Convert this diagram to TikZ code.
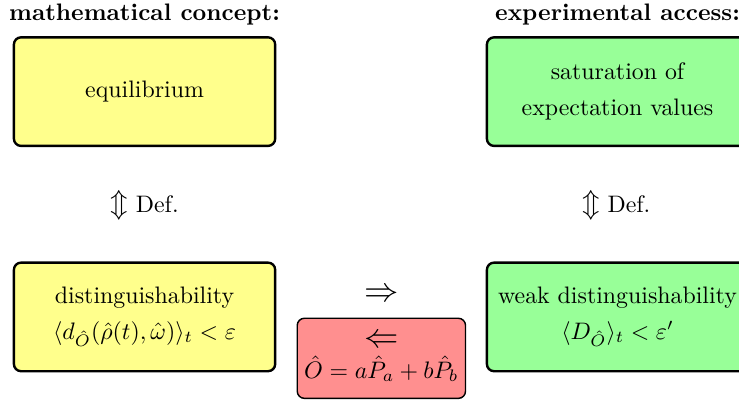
\documentclass[tikz,border=0pt]{standalone}
\usepackage{amsmath}
\usepackage{amssymb}
\usetikzlibrary{positioning}
\definecolor{conceptfill}{RGB}{255,255,140}
\definecolor{accessfill}{RGB}{152,255,152}
\definecolor{condfill}{RGB}{255,143,143}

\begin{document}
\begin{tikzpicture}[
  concept/.style={rectangle, rounded corners=3pt, draw=black, line width=1pt,
              fill=conceptfill, minimum width=3.85cm, minimum height=1.6cm,
              inner sep=2pt, align=center},
  access/.style={concept, fill=accessfill},
  cond/.style={rectangle, rounded corners=3pt, draw=black, line width=0.6pt,
              fill=condfill, minimum width=2.48cm, minimum height=1.18cm,
              inner sep=1pt, align=center},
  head/.style={font=\bfseries, inner sep=1pt},
  deflab/.style={inner sep=1pt}]
\def\bigarr#1{{\fontsize{13}{15}\selectfont$#1$}}
\def\implarr#1{{\fontsize{15}{17}\selectfont$#1$}}
\useasboundingbox (0,0) rectangle (10.89,-5.91);
% column titles
\node[head] (hmath) at (2.13,-0.22) {mathematical concept:};
\node[head] (hexp)  at (9.10,-0.22) {experimental access:};
% --- mathematical concept ---
\node[concept] (eq)   at (2.13,-1.35) {equilibrium};
\node[concept] (dist) at (2.13,-4.67) {distinguishability\\[3pt]
  $\langle d_{\hat{O}}(\hat{\rho}(t),\hat{\omega})\rangle_t<\varepsilon$};
% --- experimental access ---
\node[access] (sat)  at (9.10,-1.35) {saturation of\\[3pt]expectation values};
\node[access] (weak) at (9.10,-4.67) {weak distinguishability\\[3pt]
  $\langle D_{\hat{O}}\rangle_t<\varepsilon'$};
% definitions
\node[deflab] (defl) at (2.13,-3.02) {\bigarr{\Updownarrow} Def.};
\node[deflab] (defr) at (9.08,-3.02) {\bigarr{\Updownarrow} Def.};
% implications between the two columns
\node[deflab] (impl) at (5.63,-4.35) {\implarr{\Rightarrow}};
\node[cond] (back) at (5.62,-5.28) {\implarr{\Leftarrow}\\[1pt]
  $\hat{O}=a\hat{P}_a+b\hat{P}_b$};
\end{tikzpicture}
\end{document}
